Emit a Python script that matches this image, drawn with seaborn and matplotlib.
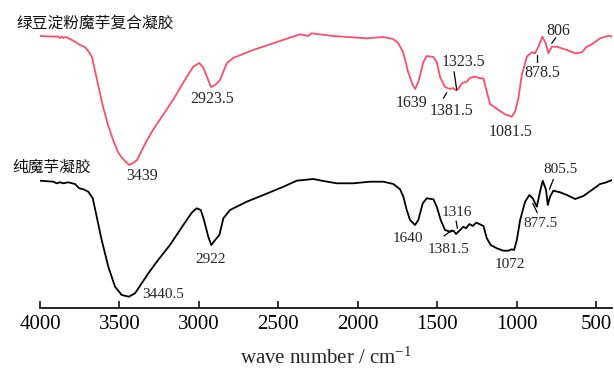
import matplotlib
matplotlib.use("Agg")
import matplotlib.pyplot as plt
import seaborn as sns
import pandas as pd

# ---------------- data ----------------
red_name = "绿豆淀粉魔芋复合凝胶"
black_name = "纯魔芋凝胶"

red_wn = [4000, 3937, 3887, 3874, 3865, 3855, 3836, 3799, 3767, 3748,
          3717, 3692, 3673, 3641, 3603, 3572, 3540, 3509, 3484, 3439,
          3415, 3389, 3358, 3326, 3289, 3226, 3163, 3100, 3037, 2999,
          2974, 2949, 2923.5, 2898, 2867, 2842, 2823, 2785, 2659, 2508,
          2363, 2313, 2290, 2156, 1942, 1841, 1778, 1746, 1715, 1683,
          1654, 1639, 1619, 1587, 1566, 1524, 1503, 1482, 1451, 1419,
          1402, 1381.5, 1367, 1346, 1314, 1293, 1262, 1230, 1209, 1188,
          1167, 1142, 1115, 1073, 1031, 1010, 989, 968, 936, 905,
          884, 863, 838, 817, 800, 779, 747, 716, 684, 632,
          590, 559, 527, 475, 423, 400]
red_t = [272, 271.5, 271.5, 270, 271.5, 270, 271, 268, 265, 263,
         261, 256, 251, 228, 201, 183, 168, 156, 150, 143,
         145, 148, 158, 168, 178, 193, 208, 225, 241, 245,
         241, 231, 221, 223, 228, 238, 245, 250, 258, 266,
         273.7, 272, 274.7, 272, 269.7, 271, 269, 265, 256, 236,
         223, 219, 226, 246, 252, 251, 246, 231, 221, 219,
         220, 217.7, 219, 224.7, 226.3, 230.3, 231.3, 229.7, 229.7, 216.3,
         203.7, 201.3, 198, 193.7, 191.3, 196.3, 209.7, 233, 251.3, 255.7,
         254.7, 261.3, 271.3, 264.7, 254.7, 261.3, 261.3, 259.7, 258, 254.7,
         255.7, 261.3, 263.7, 269.7, 272.3, 271.5]

black_wn = [4000, 3916, 3895, 3874, 3853, 3822, 3780, 3753, 3727, 3696,
            3668, 3643, 3612, 3570, 3528, 3486, 3440.5, 3402, 3360, 3318,
            3265, 3182, 3098, 3045, 3014, 2988, 2968, 2941, 2922, 2898,
            2871, 2846, 2804, 2699, 2594, 2468, 2384, 2280, 2217, 2132,
            2028, 1923, 1839, 1776, 1734, 1713, 1692, 1671, 1640, 1619,
            1591, 1566, 1524, 1503, 1478, 1451, 1419, 1398, 1381.5, 1356,
            1335, 1318, 1298, 1276, 1255, 1235, 1209, 1188, 1163, 1125,
            1084, 1052, 1031, 1016, 999, 978, 947, 920, 899, 873,
            853, 836, 815, 804, 790, 769, 727, 684, 632, 580,
            527, 475, 443, 400]
black_t = [127.3, 126.3, 124.7, 125.7, 124.7, 125.7, 124, 119.7, 118.7, 116.3,
           109.7, 91.3, 68, 41.3, 21.3, 13, 11.3, 14.7, 24.7, 34.7,
           46.3, 63, 83, 95.3, 99.7, 98, 88, 71.3, 63, 68,
           73, 89.7, 98, 106.3, 113, 121.3, 127.3, 129, 127, 124.7,
           124.7, 126.3, 126.3, 124, 118.7, 111.3, 98, 88, 83, 88,
           104.7, 109.7, 108.7, 101.3, 88, 78, 76.3, 77.3, 74, 78,
           81.3, 79.7, 84, 82, 85.3, 84, 82, 69.7, 63, 59.7,
           57.3, 57.3, 58.7, 58, 68, 88, 106.3, 113, 109.7, 101.3,
           116.3, 127.3, 118, 103, 111.3, 117.3, 115.7, 113, 109, 112,
           118, 124, 125.3, 128]

red_peaks = ["3439", "2923.5", "1639", "1381.5", "1323.5", "1081.5", "878.5", "806"]
black_peaks = ["3440.5", "2922", "1640", "1381.5", "1316", "1072", "877.5", "805.5"]

x_ticks = [4000, 3500, 3000, 2500, 2000, 1500, 1000, 500]
x_label = r"wave number / cm$^{\mathregular{-1}}$"

# ---------------- styling ----------------
sns.set_theme(style="white")
plt.rcParams["font.family"] = ["Liberation Serif", "Noto Sans CJK SC", "DejaVu Sans"]
plt.rcParams["mathtext.default"] = "regular"
plt.rcParams["axes.unicode_minus"] = False

RED = "#ff4d68"
serif = ["Liberation Serif", "DejaVu Serif"]
cjk = ["Noto Sans CJK SC", "DejaVu Sans"]

fig = plt.figure(figsize=(6.14, 3.70), dpi=100)
ax = fig.add_axes([40 / 614, 62 / 370, 572 / 614, 308 / 370])

df = pd.concat([
    pd.DataFrame({"wn": red_wn, "T": red_t, "sample": red_name}),
    pd.DataFrame({"wn": black_wn, "T": black_t, "sample": black_name}),
])
sns.lineplot(data=df, x="wn", y="T", hue="sample",
             palette={red_name: RED, black_name: "black"},
             sort=False, estimator=None, lw=1.3, legend=False, ax=ax,
             solid_joinstyle="round", solid_capstyle="round")

ax.set_xlim(4000, 400)
ax.set_ylim(0, 308)
ax.set_xticks(x_ticks)
ax.set_xticklabels([str(t) for t in x_ticks], fontfamily=serif, fontsize=15)
ax.set_yticks([])
ax.set_ylabel("")
ax.set_xlabel(x_label, fontfamily=serif, fontsize=15, labelpad=10)
ax.tick_params(axis="x", direction="in", length=5, width=1.1, color="black",
               pad=5, bottom=True, labelcolor="black")
for s in ["left", "top", "right"]:
    ax.spines[s].set_visible(False)
ax.spines["bottom"].set_color("black")
ax.spines["bottom"].set_linewidth(1.2)
ax.patch.set_alpha(0)

# series names
ax.text(4145, 285, red_name, fontfamily=cjk, fontsize=11.3, ha="left", va="center",
        clip_on=False, color="#111111")
ax.text(4176, 141, black_name, fontfamily=cjk, fontsize=11.3, ha="left", va="center",
        clip_on=False, color="#111111")

# peak labels (text positions in data coordinates)
red_pos = [(3360, 132), (2915, 208.7), (1660, 205.3), (1413, 197),
           (1335, 246.3), (1037, 176.3), (838, 234.7), (735, 277.3)]
black_pos = [(3224, 13), (2925, 48.7), (1682, 69), (1430, 58.7),
             (1377, 95.7), (1041, 44), (853, 84.7), (727, 138.7)]
for lab, (x, y) in zip(red_peaks, red_pos):
    ax.text(x, y, lab, fontfamily=serif, fontsize=11.5, ha="center", va="center")
for lab, (x, y) in zip(black_peaks, black_pos):
    ax.text(x, y, lab, fontfamily=serif, fontsize=11, ha="center", va="center")

leaders = [((1394, 1377), (236.3, 218)), ((1440, 1461), (215.3, 209.7)),
           ((873, 873), (253, 246.3)), ((754, 779), (270.3, 264.7)),
           ((1457, 1407), (72, 78)), ((1381, 1373), (87, 79.7)),
           ((899, 870), (104.7, 95.3)), ((769, 794), (128.7, 118.7))]
for xs, ys in leaders:
    ax.plot(xs, ys, color="black", lw=0.9)

fig.savefig("out.png", dpi=100)
